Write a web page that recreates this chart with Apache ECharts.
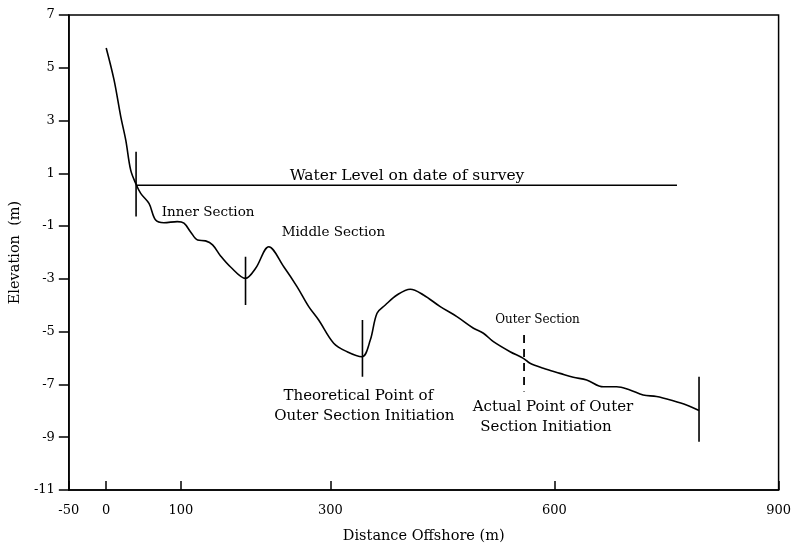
<!DOCTYPE html>
<html>
<head>
<meta charset="utf-8">
<script src="https://cdn.jsdelivr.net/npm/echarts@6/dist/echarts.min.js"></script>
<style>html,body{margin:0;padding:0;background:#fff}#c{width:794px;height:552px}</style>
</head>
<body>
<div id="c"></div>
<script>
// Beach profile (distance offshore m, elevation m)
const profileX = [0, 10.5, 19.5, 26.2, 32.8, 39.5, 46.2, 57.3, 66.2, 77.3, 95.2, 104.1, 113, 122.4, 133, 142.4, 153.1, 166.5, 186.5, 200, 217.6, 237.7, 255.6, 271.1, 284.4, 304.5, 322.4, 342.4, 353.5, 362.5, 373.6, 389.2, 407, 424.7, 447.1, 469.4, 491.6, 504.9, 518.3, 540.6, 558.4, 567.3, 585.1, 607.4, 625.2, 643.1, 665.3, 683.2, 701, 718.7, 736.6, 758.8, 776.7, 793.5];
const profileY = [5.75, 4.54, 3.15, 2.26, 1.12, 0.62, 0.24, -0.14, -0.77, -0.87, -0.83, -0.89, -1.22, -1.53, -1.56, -1.71, -2.13, -2.55, -2.98, -2.6, -1.78, -2.54, -3.3, -4.05, -4.56, -5.44, -5.76, -5.95, -5.32, -4.3, -3.99, -3.61, -3.39, -3.61, -4.05, -4.43, -4.87, -5.06, -5.38, -5.76, -6.01, -6.2, -6.39, -6.58, -6.73, -6.83, -7.09, -7.09, -7.21, -7.4, -7.46, -7.62, -7.78, -7.99];

// Section boundary markers
const markerX = [40, 186.5, 343, 793.5];
const markerTop = [1.82, -2.16, -4.56, -6.71];
const markerBottom = [-0.64, -3.99, -6.71, -9.17];
const dashedMarkerX = 559.3;
const dashedMarkerTop = -5.13;
const dashedMarkerBottom = -7.27;

// Water level
const waterLevel = 0.55;
const waterStart = 40;
const waterEnd = 764;

// Axis ticks
const xTicks = [-50, 0, 100, 300, 600, 900];
const yTicks = [-11, -9, -7, -5, -3, -1, 1, 3, 5, 7];

// Annotations: [x, y, text, fontSize, align]
const annotations = [
  [245.7, 0.9, 'Water Level on date of survey', 15.5, 'left'],
  [136.4, -0.48, 'Inner Section', 13.5, 'center'],
  [304.1, -1.24, 'Middle Section', 13.5, 'center'],
  [337.5, -7.46, 'Theoretical Point of', 15, 'center'],
  [345.5, -8.19, 'Outer Section Initiation', 15, 'center'],
  [577.3, -4.56, 'Outer Section', 12, 'center'],
  [598, -7.87, 'Actual Point of Outer', 15, 'center'],
  [588.7, -8.63, 'Section Initiation', 15, 'center']
];

const FONT = '"DejaVu Serif", serif';
const chart = echarts.init(document.getElementById('c'), null, {renderer: 'canvas'});

const LW = 1.6;
const series = [];
series.push({
  type: 'line', data: profileX.map((x, i) => [x, profileY[i]]),
  smooth: 0.35, showSymbol: false, symbol: 'none',
  lineStyle: {color: '#000', width: LW}, silent: true, z: 5
});
series.push({
  type: 'line', data: [[waterStart, waterLevel], [waterEnd, waterLevel]],
  showSymbol: false, symbol: 'none', lineStyle: {color: '#000', width: LW}, silent: true
});
markerX.forEach((mx, i) => {
  series.push({
    type: 'line', data: [[mx, markerTop[i]], [mx, markerBottom[i]]],
    showSymbol: false, symbol: 'none', lineStyle: {color: '#000', width: LW}, silent: true
  });
});
series.push({
  type: 'line', data: [[dashedMarkerX, dashedMarkerTop], [dashedMarkerX, dashedMarkerBottom]],
  showSymbol: false, symbol: 'none', lineStyle: {color: '#000', width: 1.8, type: [8, 6]}, silent: true
});

chart.setOption({
  animation: false,
  backgroundColor: '#fff',
  grid: {left: 68, right: 15, top: 15, bottom: 62, show: true, borderColor: '#000', borderWidth: 1.5, backgroundColor: 'transparent'},
  xAxis: {
    type: 'value', min: -50, max: 900,
    name: 'Distance Offshore (m)', nameLocation: 'middle', nameGap: 39,
    nameTextStyle: {fontFamily: FONT, fontSize: 14.5, color: '#000'},
    axisLine: {show: true, onZero: false, lineStyle: {color: '#000', width: 1.5}},
    axisTick: {show: true, inside: true, length: 9, customValues: xTicks, lineStyle: {color: '#000', width: 1.5}},
    axisLabel: {customValues: xTicks, fontFamily: FONT, fontSize: 13, color: '#000', margin: 14},
    splitLine: {show: false}
  },
  yAxis: {
    type: 'value', min: -11, max: 7,
    name: 'Elevation  (m)', nameLocation: 'middle', nameGap: 43, nameRotate: 90,
    nameTextStyle: {fontFamily: FONT, fontSize: 14.5, color: '#000'},
    axisLine: {show: true, onZero: false, lineStyle: {color: '#000', width: 1.5}},
    axisTick: {show: true, inside: false, length: 10, customValues: yTicks, lineStyle: {color: '#000', width: 1.5}},
    axisLabel: {customValues: yTicks, fontFamily: FONT, fontSize: 13, color: '#000', margin: 14},
    splitLine: {show: false}
  },
  series: series
});

const graphics = annotations.map(a => {
  const p = chart.convertToPixel({gridIndex: 0}, [a[0], a[1]]);
  return {
    type: 'text', x: p[0], y: p[1], silent: true,
    style: {text: a[2], fontFamily: FONT, fontSize: a[3], fill: '#000', align: a[4], verticalAlign: 'middle'}
  };
});
chart.setOption({graphic: graphics});
</script>
</body>
</html>
